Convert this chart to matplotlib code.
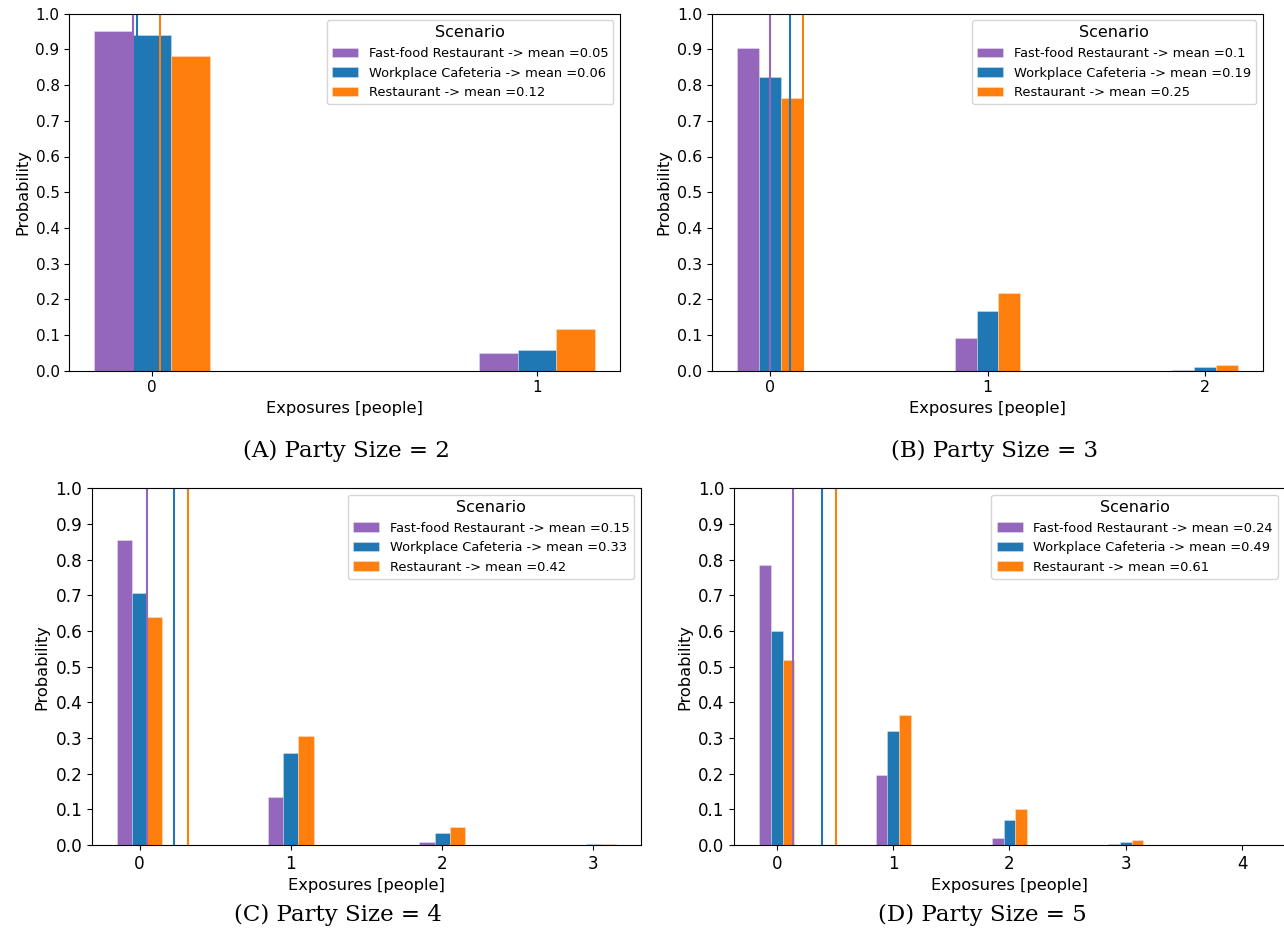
import matplotlib
matplotlib.use("Agg")
import matplotlib.pyplot as plt

# data
party_sizes = [2, 3, 4, 5]
panel_letters = ["A", "B", "C", "D"]
scenarios = ["Fast-food Restaurant", "Workplace Cafeteria", "Restaurant"]
colors = ["tab:purple", "tab:blue", "tab:orange"]

means = [
    [0.05, 0.06, 0.12],
    [0.1, 0.19, 0.25],
    [0.15, 0.33, 0.42],
    [0.24, 0.49, 0.61],
]

fastfood = [
    [0.951, 0.049],
    [0.905, 0.091, 0.002],
    [0.855, 0.135, 0.0075, 0.0003],
    [0.784, 0.195, 0.019, 0.0015, 0.0001],
]
workplace = [
    [0.941, 0.059],
    [0.822, 0.168, 0.0095],
    [0.706, 0.257, 0.033, 0.0015],
    [0.600, 0.320, 0.070, 0.0075, 0.0005],
]
restaurant = [
    [0.882, 0.118],
    [0.764, 0.219, 0.016],
    [0.639, 0.306, 0.050, 0.003],
    [0.519, 0.365, 0.101, 0.013, 0.0012],
]

W, H = 1284, 942
fig = plt.figure(figsize=(W / 100, H / 100), dpi=100)

# axes boxes in pixels: left, right, top, bottom
boxes = [
    (69.3, 620.0, 13.7, 370.7),
    (712.3, 1262.7, 13.7, 370.7),
    (92.0, 641.0, 488.3, 845.0),
    (734.3, 1284.6, 488.3, 845.0),
]
caption_x = [346, 995, 338, 982]
caption_y = [451, 451, 915, 915]
tick_fs = [10.9, 11.4, 12.2, 12.0]

width = 0.1
for i in range(4):
    l, r, t, b = boxes[i]
    ax = fig.add_axes([l / W, (H - b) / H, (r - l) / W, (b - t) / H])
    series = [fastfood[i], workplace[i], restaurant[i]]
    for j in range(3):
        xs = [k + (j - 1) * width for k in range(len(series[j]))]
        ax.bar(xs, series[j], width=width, color=colors[j],
               edgecolor=(1, 1, 1, 0.35), linewidth=0.6,
               label=f"{scenarios[j]} -> mean ={means[i][j]}")
    for j in range(3):
        ax.axvline(means[i][j] - width, color=colors[j], linewidth=1.5)
    ax.set_ylim(0, 1)
    ax.set_yticks([k / 10 for k in range(11)])
    ax.set_xticks(range(len(fastfood[i])))
    ax.tick_params(labelsize=tick_fs[i])
    ax.set_xlabel("Exposures [people]", fontsize=11.7)
    ax.set_ylabel("Probability", fontsize=11.7)
    ax.legend(title="Scenario", loc="upper right", fontsize=9.4,
              title_fontsize=11.5)
    fig.text(caption_x[i] / W, 1 - caption_y[i] / H,
             f"({panel_letters[i]}) Party Size = {party_sizes[i]}",
             ha="center", va="center", fontsize=16.5,
             family="DejaVu Serif")

fig.savefig("out.png", dpi=100)
